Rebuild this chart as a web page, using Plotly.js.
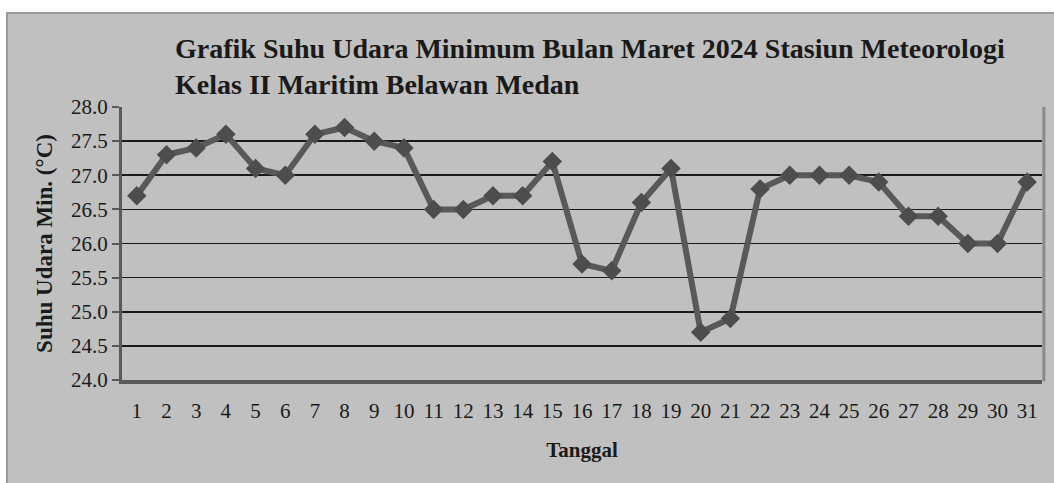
<!DOCTYPE html>
<html>
<head>
<meta charset="utf-8">
<script src="https://cdn.plot.ly/plotly-3.0.1.min.js"></script>
<style>html,body{margin:0;padding:0;background:#fff;}#chart{width:1054px;height:483px;}</style>
</head>
<body>
<div id="chart"></div>
<script>
const days = ['1','2','3','4','5','6','7','8','9','10','11','12','13','14','15','16','17','18','19','20','21','22','23','24','25','26','27','28','29','30','31'];
const tempMin = [26.7,27.3,27.4,27.6,27.1,27.0,27.6,27.7,27.5,27.4,26.5,26.5,26.7,26.7,27.2,25.7,25.6,26.6,27.1,24.7,24.9,26.8,27.0,27.0,27.0,26.9,26.4,26.4,26.0,26.0,26.9];
const chartTitle = '<b>Grafik Suhu Udara Minimum Bulan Maret 2024 Stasiun Meteorologi<br>Kelas II Maritim Belawan Medan</b>';
const xTitle = '<b>Tanggal</b>';
const yTitle = '<b>Suhu Udara Min. (°C)</b>';

const serif = 'Liberation Serif';

const trace = {
  type: 'scatter',
  mode: 'lines+markers',
  x: days,
  y: tempMin,
  line: {color: '#595959', width: 6},
  marker: {symbol: 'diamond', size: 15, color: '#4d4d4d'},
  cliponaxis: false,
  hoverinfo: 'x+y'
};

const layout = {
  width: 1054,
  height: 483,
  margin: {l: 122, r: 12, t: 107, b: 103},
  paper_bgcolor: '#ffffff',
  plot_bgcolor: '#ffffff',
  showlegend: false,
  font: {family: serif, color: '#1a1a1a'},
  title: {
    text: chartTitle,
    xref: 'container', x: 175/1054, xanchor: 'left',
    yref: 'container', y: 1 - 58/483, yanchor: 'top',
    font: {family: serif, size: 28, color: '#1a1a1a'}
  },
  xaxis: {
    type: 'category',
    range: [-0.5, 30.5],
    showgrid: false,
    zeroline: false,
    showline: true, linecolor: '#5a5a5a', linewidth: 4,
    ticks: 'outside', ticklen: 9, tickcolor: 'rgba(0,0,0,0)',
    tickfont: {family: serif, size: 21, color: '#1a1a1a'},
    title: {text: xTitle, font: {family: serif, size: 21, color: '#1a1a1a'}, standoff: 21},
    automargin: false
  },
  yaxis: {
    range: [24, 28],
    tickmode: 'linear', tick0: 24, dtick: 0.5,
    tickformat: '.1f',
    showgrid: true, gridcolor: '#1a1a1a', gridwidth: 1.6,
    zeroline: false,
    showline: true, linecolor: '#5a5a5a', linewidth: 3,
    ticks: 'outside', ticklen: 7, tickwidth: 2, tickcolor: '#5a5a5a',
    tickfont: {family: serif, size: 21, color: '#1a1a1a'},
    title: {text: yTitle, font: {family: serif, size: 23, color: '#1a1a1a'}, standoff: 12},
    automargin: false
  },
  shapes: [
    {type: 'rect', xref: 'paper', yref: 'paper', layer: 'below',
     x0: -115/920, x1: 1.05, y0: -0.5, y1: 1 + 94/273,
     fillcolor: '#c0c0c0', line: {color: '#9a9a9a', width: 2}},
    {type: 'line', xref: 'paper', yref: 'paper', layer: 'above',
     x0: 1.002, x1: 1.002, y0: -0.005, y1: 1,
     line: {color: '#8a8a8a', width: 3}}
  ]
};

Plotly.newPlot('chart', [trace], layout, {displayModeBar: false, staticPlot: true});
</script>
</body>
</html>
